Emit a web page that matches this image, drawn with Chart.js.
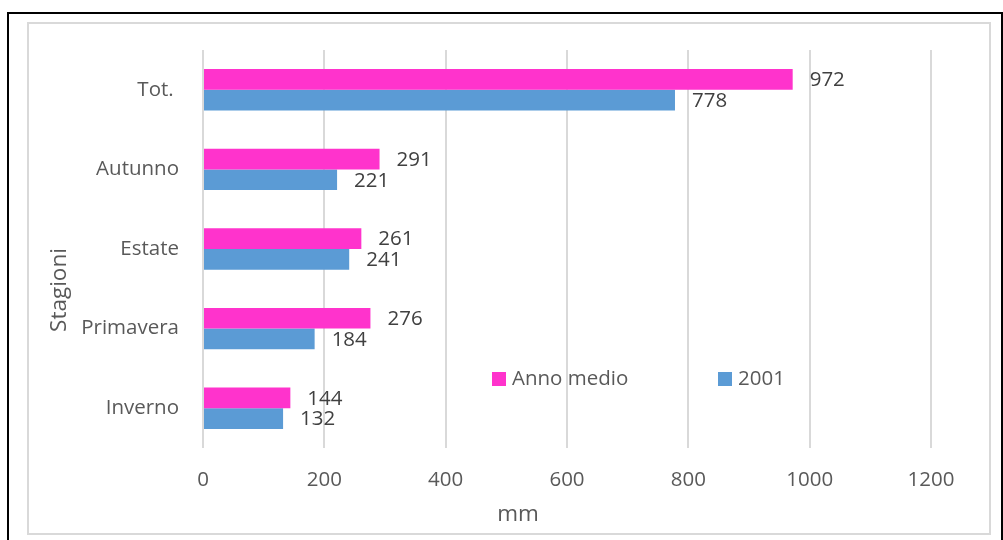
<!DOCTYPE html>
<html>
<head>
<meta charset="utf-8">
<script src="https://cdn.jsdelivr.net/npm/chart.js@4/dist/chart.umd.min.js"></script>
<style>
  body { margin: 0; background: #fff; }
  #outer { position: absolute; left: 7px; top: 12px; width: 992px; height: 600px; border: 2px solid #000; }
  #inner { position: absolute; left: 27px; top: 22px; width: 960px; height: 509px; border: 2px solid #d9d9d9; }
  #myChart { position: absolute; left: 0; top: 0; z-index: 2; }
</style>
</head>
<body>
<div id="outer"></div>
<div id="inner"></div>
<canvas id="myChart" width="1003" height="540"></canvas>
<script>
"use strict";
// data
let categories = ["Tot. ", "Autunno", "Estate", "Primavera", "Inverno"];
let seriesNames = ["Anno medio", "2001"];
let annoMedio = [972, 291, 261, 276, 144];
let anno2001 = [778, 221, 241, 184, 132];
let xMin = 0;
let xMax = 1200;
let xStep = 200;
let xTitle = "mm";
let yTitle = "Stagioni";

let colors = ["#ff33cc", "#5b9bd5"];
let fontFamily = "'Open Sans', sans-serif";
let tickColor = "#595959";

//value labels at the end of each bar
let barLabels = {
  id: "barLabels",
  afterDatasetsDraw(chart) {
    let ctx = chart.ctx;
    ctx.save();
    ctx.font = "20.5px " + fontFamily;
    ctx.fillStyle = "#404040";
    ctx.textAlign = "left";
    ctx.textBaseline = "middle";
    chart.data.datasets.forEach((ds, i) => {
      let meta = chart.getDatasetMeta(i);
      meta.data.forEach((bar, j) => {
        ctx.fillText(ds.data[j], bar.x + 17, bar.y + 1);
      });
    });
    ctx.restore();
  },
};

//legend inside the plot + axis titles
let extras = {
  id: "extras",
  afterDraw(chart) {
    let ctx = chart.ctx;
    let a = chart.chartArea;
    ctx.save();
    ctx.font = "20.5px " + fontFamily;
    ctx.textBaseline = "middle";
    ctx.textAlign = "left";
    let legendY = a.top + 329;
    let legendX = [a.left + 289, a.left + 515];
    chart.data.datasets.forEach((ds, i) => {
      ctx.fillStyle = ds.backgroundColor;
      ctx.fillRect(legendX[i], legendY - 7, 14, 14);
      ctx.fillStyle = tickColor;
      ctx.fillText(ds.label, legendX[i] + 20, legendY);
    });

    ctx.font = "22.5px " + fontFamily;
    ctx.fillStyle = tickColor;
    ctx.textAlign = "center";
    ctx.textBaseline = "alphabetic";
    ctx.fillText(xTitle, 518, 521);

    ctx.translate(66, 290);
    ctx.rotate(-Math.PI / 2);
    ctx.fillText(yTitle, 0, 0);
    ctx.restore();
  },
};

let ctx = document.getElementById("myChart").getContext("2d");
let myChart = new Chart(ctx, {
  type: "bar",
  data: {
    labels: categories,
    datasets: [
      {
        label: seriesNames[0],
        data: annoMedio,
        backgroundColor: colors[0],
        categoryPercentage: 0.52,
        barPercentage: 1,
      },
      {
        label: seriesNames[1],
        data: anno2001,
        backgroundColor: colors[1],
        categoryPercentage: 0.52,
        barPercentage: 1,
      },
    ],
  },
  options: {
    indexAxis: "y",
    responsive: false,
    animation: false,
    layout: { padding: { top: 50, right: 72, left: 0, bottom: 0 } },
    plugins: {
      legend: { display: false },
      tooltip: { enabled: false },
    },
    scales: {
      x: {
        min: xMin,
        max: xMax,
        ticks: {
          stepSize: xStep,
          padding: 20,
          color: tickColor,
          font: { family: fontFamily, size: 20.5 },
          callback: (v) => String(v),
        },
        grid: { color: "#d9d9d9", lineWidth: 2, drawTicks: false },
        border: { display: false },
        afterFit(scale) {
          scale.height = 92;
        },
      },
      y: {
        ticks: {
          padding: 24,
          color: tickColor,
          font: { family: fontFamily, size: 20.5 },
        },
        grid: { display: false, drawTicks: false },
        border: { display: false },
        afterFit(scale) {
          scale.width = 203;
        },
      },
    },
  },
  plugins: [barLabels, extras],
});
</script>
</body>
</html>
